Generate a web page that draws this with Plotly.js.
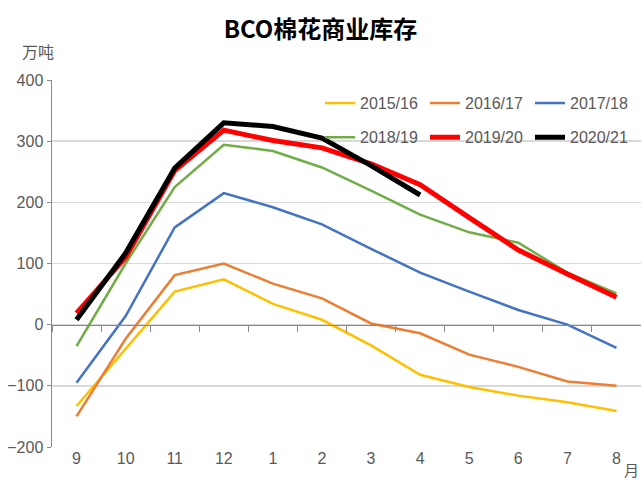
<!DOCTYPE html>
<html>
<head>
<meta charset="utf-8">
<script src="https://cdn.plot.ly/plotly-3.0.1.min.js"></script>
<style>html,body{margin:0;padding:0;background:#fff;}#chart{width:641px;height:480px;}</style>
</head>
<body>
<div id="chart"></div>
<script>
const months = ["9","10","11","12","1","2","3","4","5","6","7","8"];
const seriesNames = ["2015/16","2016/17","2017/18","2018/19","2019/20","2020/21"];
const s2015 = [-133, -40, 54, 74, 34, 8, -34, -82, -102, -116, -127, -141];
const s2016 = [-150, -23, 81, 100, 67, 43, 2, -14, -49, -69, -93, -100];
const s2017 = [-95, 14, 159, 215, 192, 164, 124, 85, 54, 24, 0, -38];
const s2018 = [-35, 100, 225, 294, 284, 257, 219, 180, 151, 134, 85, 51];
const s2019 = [19, 110, 252, 318, 301, 289, 263, 229, 175, 122, 83, 45];
const s2020 = [8, 117, 256, 330, 324, 305, 260, 212];
const yTicks = [-200, -100, 0, 100, 200, 300, 400];

const colors = ["#FFC000","#ED7D31","#4472C4","#70AD47","#FF0000","#000000"];
const widths = [2.5,2.5,2.5,2.5,5,5];
const all = [s2015,s2016,s2017,s2018,s2019,s2020];

const font = "'Liberation Sans','Noto Sans CJK SC',sans-serif";

const traces = all.map((vals,i)=>({
  type:'scatter', mode:'lines', name:seriesNames[i],
  x: months.slice(0, vals.length), y: vals,
  line:{color:colors[i], width:widths[i]},
  xaxis:'x', yaxis:'y',
  legend: i < 3 ? 'legend' : 'legend2'
}));
traces.push({type:'scatter', x:[], y:[], xaxis:'x2', yaxis:'y', showlegend:false, hoverinfo:'skip'});

const boundaries = months.map((m,i)=>i-0.5).concat([months.length-0.5]);

const legendBase = {orientation:'h', xanchor:'left', yanchor:'middle',
    entrywidth:60, entrywidthmode:'pixels', font:{family:font, size:16, color:'#595959'},
    bgcolor:'rgba(0,0,0,0)', borderwidth:0, itemwidth:30};

const layout = {
  width:641, height:480,
  margin:{l:52, r:0, t:80, b:33},
  paper_bgcolor:'#fff', plot_bgcolor:'#fff',
  title:{text:'<b>BCO棉花商业库存</b>', x:0.5, xanchor:'center', y:0.9375, yanchor:'middle',
    font:{family:"'Noto Sans CJK SC',sans-serif", size:24, color:'#000'}},
  xaxis:{type:'category', categoryarray:months, range:[-0.5, months.length-0.5],
    showgrid:false, showline:false, ticks:'', zeroline:false,
    tickfont:{family:font, size:16, color:'#595959'}, fixedrange:true},
  xaxis2:{overlaying:'x', anchor:'free', position:1/3, range:[-0.5, months.length-0.5],
    tickvals:boundaries, showticklabels:false, ticks:'outside', ticklen:6, tickcolor:'#888',
    showline:true, linecolor:'#888', linewidth:1.5, showgrid:false, zeroline:false},
  yaxis:{range:[-200,400], tickvals:yTicks, showgrid:true, gridcolor:'#d9d9d9', gridwidth:1.5,
    zeroline:false, showline:true, linecolor:'#888', linewidth:1.5, ticks:'outside', ticklen:4, tickcolor:'#888',
    tickfont:{family:font, size:16, color:'#595959'}},
  legend: Object.assign({}, legendBase, {x:0.455, y:0.937}),
  legend2: Object.assign({}, legendBase, {x:0.455, y:0.844}),
  showlegend:true,
  annotations:[
    {text:'万吨', xref:'paper', yref:'paper', x:-0.024, y:1.079, xanchor:'center', yanchor:'middle', showarrow:false,
      font:{family:"'Noto Sans CJK SC',sans-serif", size:16, color:'#595959'}},
    {text:'月', xref:'paper', yref:'paper', x:1.0, y:-0.06, xanchor:'right', yanchor:'middle', showarrow:false,
      font:{family:"'Noto Sans CJK SC',sans-serif", size:15, color:'#595959'}}
  ]
};
Plotly.newPlot('chart', traces, layout, {displayModeBar:false, staticPlot:true});
</script>
</body>
</html>
